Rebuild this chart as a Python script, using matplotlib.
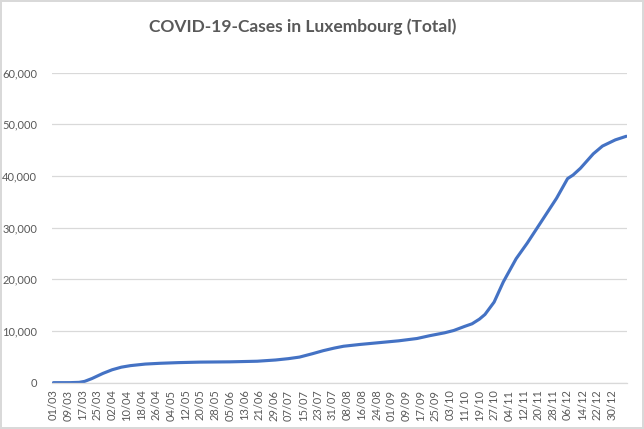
import matplotlib.pyplot as plt
import matplotlib.dates as mdates
import pandas as pd

# cumulative cases
dates = ["2020-03-01", "2020-03-10", "2020-03-15", "2020-03-18", "2020-03-22",
         "2020-03-25", "2020-03-28", "2020-04-02", "2020-04-07", "2020-04-12",
         "2020-04-20", "2020-04-28", "2020-05-08", "2020-05-20", "2020-06-05",
         "2020-06-20", "2020-06-30", "2020-07-07", "2020-07-13", "2020-07-20",
         "2020-07-26", "2020-08-01", "2020-08-06", "2020-08-15", "2020-08-24",
         "2020-09-05", "2020-09-15", "2020-09-22", "2020-09-30", "2020-10-05",
         "2020-10-11", "2020-10-15", "2020-10-19", "2020-10-22", "2020-10-27",
         "2020-11-01", "2020-11-08", "2020-11-14", "2020-11-21", "2020-11-30",
         "2020-12-06", "2020-12-09", "2020-12-13", "2020-12-20", "2020-12-25",
         "2021-01-01", "2021-01-07"]
cases = [0, 5, 60, 250, 800,
         1300, 1800, 2500, 3000, 3300,
         3600, 3750, 3880, 3980, 4030,
         4150, 4390, 4650, 4950, 5600,
         6200, 6700, 7050, 7400, 7700,
         8100, 8550, 9100, 9650, 10100,
         10900, 11400, 12300, 13200, 15600,
         19500, 24000, 27000, 30800, 35700,
         39500, 40200, 41500, 44300, 45800,
         47000, 47700]
y_ticks = [0, 10000, 20000, 30000, 40000, 50000, 60000]

x = pd.to_datetime(dates)
tick_dates = pd.date_range("2020-03-01", "2020-12-30", freq="8D")

grey = "#595959"
plt.rcParams["font.family"] = ["Lato", "DejaVu Sans"]

fig = plt.figure(figsize=(6.44, 4.29), dpi=100)
fig.patch.set_edgecolor("#D9D9D9")
fig.patch.set_linewidth(1.5)
ax = fig.add_axes([0.0815, 0.108, 0.8925, 0.7225])

ax.plot(x, cases, color="#4472C4", linewidth=2.25, solid_capstyle="round")

ax.set_ylim(0, 60000)
ax.set_yticks(y_ticks)
ax.set_yticklabels([f"{v:,}" for v in y_ticks])
ax.set_xlim(x[0] - pd.Timedelta(hours=12), x[-1] + pd.Timedelta(hours=12))
ax.set_xticks(tick_dates)
ax.xaxis.set_major_formatter(mdates.DateFormatter("%d/%m"))

ax.grid(axis="y", color="#D9D9D9", linewidth=0.9)
ax.set_axisbelow(True)
for side in ["top", "right", "left"]:
    ax.spines[side].set_visible(False)
ax.spines["bottom"].set_color("#D9D9D9")
ax.spines["bottom"].set_linewidth(0.9)
ax.tick_params(axis="both", length=0, colors=grey, labelsize=8)
ax.tick_params(axis="x", rotation=90, pad=5)
ax.tick_params(axis="y", pad=11)

fig.text(0.47, 0.937, "COVID-19-Cases in Luxembourg (Total)", ha="center",
         va="center", fontsize=12.5, fontweight="bold", color=grey)

fig.savefig("out.png", dpi=100, edgecolor=fig.get_edgecolor())
